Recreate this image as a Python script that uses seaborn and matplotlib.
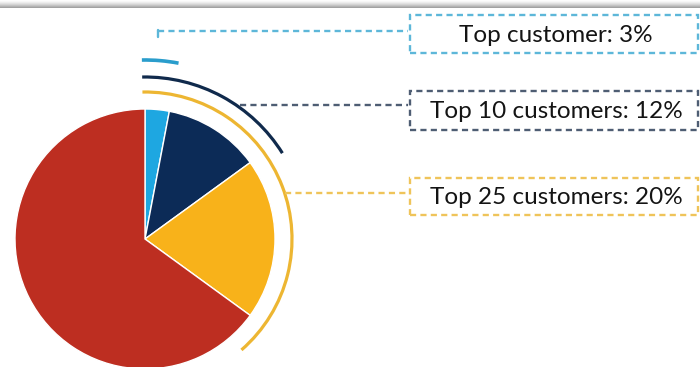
import numpy as np
import matplotlib
matplotlib.use("Agg")
import matplotlib.pyplot as plt
from matplotlib.patches import Arc, Rectangle
from matplotlib.colors import LinearSegmentedColormap
import seaborn as sns

# Share of revenue by customer group (percent)
groups = ["Top customer", "Top 10 customers", "Top 25 customers", "Other customers"]
shares = [3, 12, 20, 65]
callout_labels = ["Top customer: 3%", "Top 10 customers: 12%", "Top 25 customers: 20%"]

sns.set_theme(style="white")
plt.rcParams["font.family"] = ["Lato", "DejaVu Sans"]

slice_colors = ["#1EA7E1", "#0C2B57", "#F8B21A", "#BD2E21"]
arc_colors = ["#2A9DCC", "#102A4C", "#EDB632"]
dash_colors = ["#5DB7D9", "#4E5D73", "#EFC45A"]

W, H = 700, 367
fig = plt.figure(figsize=(7.0, 3.67), dpi=100)
ax = fig.add_axes([0, 0, 1, 1])

cx, cy, r = 145, 128, 130
ax.pie(shares, colors=slice_colors, startangle=90, counterclock=False,
       center=(cx, cy), radius=r,
       wedgeprops=dict(edgecolor="white", linewidth=1.0))

# soft grey shade along the top edge
shade_cmap = LinearSegmentedColormap.from_list("shade", ["#ffffff", "#9a9a9a"])
shade = np.linspace(0, 1, 50).reshape(-1, 1) ** 1.5
ax.imshow(shade, extent=(0, W, H - 8, H), cmap=shade_cmap, vmin=0, vmax=1,
          aspect="auto", zorder=0)

ax.set_xlim(0, W)
ax.set_ylim(0, H)
ax.set_aspect("equal")
ax.axis("off")

# arcs spanning the cumulative groups
cum = np.cumsum(shares[:3])
arc_radii = [179, 162, 147]
arc_extra = [0.0, 4.0, 13.0]   # degrees past the group boundary
arc_widths = [2.6, 2.3, 2.3]
for c, rr, extra, pct, lw in zip(arc_colors, arc_radii, arc_extra, cum, arc_widths):
    end = 90 - pct * 3.6 - extra
    ax.add_patch(Arc((cx, cy), 2 * rr, 2 * rr, theta1=end, theta2=91,
                     color=c, lw=lw, zorder=3))

# callout boxes with dashed leaders
dash = (0, (2.6, 1.8))
box_left, box_right = 410, 698
box_tops = [15, 91, 178]
box_bottoms = [53, 130, 215]
leader_y = [31, 105, 193]
leader_x0 = [158, 240, 285]
for i, lab in enumerate(callout_labels):
    yt, yb = H - box_tops[i], H - box_bottoms[i]
    ax.add_patch(Rectangle((box_left, yb), box_right - box_left, yt - yb,
                           fill=False, edgecolor=dash_colors[i], lw=1.7,
                           linestyle=dash, zorder=4))
    ly = H - leader_y[i]
    ax.plot([leader_x0[i], box_left - 2], [ly, ly], color=dash_colors[i], lw=1.7,
            linestyle=dash, zorder=4)
    ax.text((box_left + box_right) / 2 + 2, (yt + yb) / 2 - 1, lab, ha="center",
            va="center", fontsize=17.5, color="#141414", zorder=5)

# small tick at the start of the top leader
ax.plot([158, 158], [H - 30, H - 37], color=dash_colors[0], lw=1.7, zorder=4)

fig.savefig("out.png", dpi=100)
